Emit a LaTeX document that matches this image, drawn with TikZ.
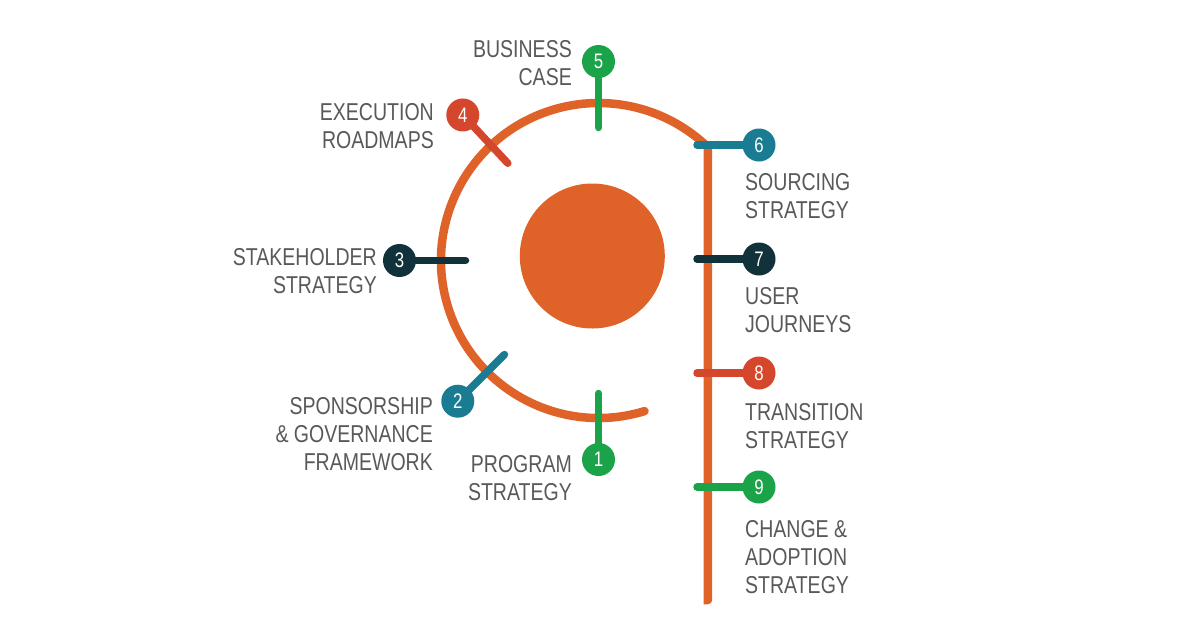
\documentclass[tikz,border=0pt]{standalone}
\usepackage{fontspec}
\newfontfamily\condfont{Liberation Sans}[FakeStretch=0.80]

\definecolor{ringorange}{HTML}{DF6329}
\definecolor{stepgreen}{HTML}{1BA34A}
\definecolor{stepteal}{HTML}{1A7C93}
\definecolor{stepnavy}{HTML}{11313B}
\definecolor{stepred}{HTML}{D5472C}
\definecolor{labelgray}{HTML}{58595B}

\tikzset{
  ring/.style={draw=ringorange, line width=8.5pt, line cap=round},
  stick/.style={line width=7.5pt, line cap=round},
  badge/.style={circle, minimum size=33pt, inner sep=0pt, text=white,
                font=\condfont\fontsize{21}{21}\selectfont},
  steplabel/.style={inner sep=0pt, text=labelgray,
                    font=\condfont\fontsize{24.4}{28}\selectfont},
}

\begin{document}
\begin{tikzpicture}[x=1pt, y=1pt]
  \useasboundingbox (0,0) rectangle (1200,-627);
  \coordinate (hub) at (598.5,-260.5);
  \coordinate (spinebot) at (708,-600);

  % core and ring
  \node[circle, fill=ringorange, minimum size=145pt, inner sep=0pt] (core) at (592.3,-256) {};
  \draw[ring] ([shift={(-73:157.5)}]hub) arc[start angle=-73, end angle=-314, radius=157.5] |- (spinebot);

  % steps on the ring
  \foreach \i/\a/\c in {1/-90/stepgreen, 2/-135/stepteal, 3/180/stepnavy, 4/133/stepred, 5/90/stepgreen}{
    \coordinate (s\i) at ([shift={(\a:133)}]hub);
    \coordinate (b\i) at ([shift={(\a:199)}]hub);
    \draw[stick, draw=\c] (s\i) -- (b\i);
    \node[badge, fill=\c] (n\i) at (b\i) {\i};
  }

  % steps on the spine
  \foreach \i/\y/\c in {6/145/stepteal, 7/259/stepnavy, 8/373/stepred, 9/487/stepgreen}{
    \coordinate (s\i) at (697,-\y);
    \coordinate (b\i) at (759,-\y);
    \draw[stick, draw=\c] (s\i) -- (b\i);
    \node[badge, fill=\c] (n\i) at (b\i) {\i};
  }

  \node[steplabel, anchor=north east, align=right] (l1) at (572,-455) {PROGRAM\\STRATEGY};
  \node[steplabel, anchor=north east, align=right] (l2) at (433,-397) {SPONSORSHIP\\\& GOVERNANCE\\FRAMEWORK};
  \node[steplabel, anchor=north east, align=right] (l3) at (377,-248) {STAKEHOLDER\\STRATEGY};
  \node[steplabel, anchor=north east, align=right] (l4) at (434,-103) {EXECUTION\\ROADMAPS};
  \node[steplabel, anchor=north east, align=right] (l5) at (572,-40) {BUSINESS\\CASE};
  \node[steplabel, anchor=north west, align=left] (l6) at (745,-173) {SOURCING\\STRATEGY};
  \node[steplabel, anchor=north west, align=left] (l7) at (745,-287) {USER\\JOURNEYS};
  \node[steplabel, anchor=north west, align=left] (l8) at (745,-403) {TRANSITION\\STRATEGY};
  \node[steplabel, anchor=north west, align=left] (l9) at (745,-520) {CHANGE \&\\ADOPTION\\STRATEGY};
\end{tikzpicture}
\end{document}
